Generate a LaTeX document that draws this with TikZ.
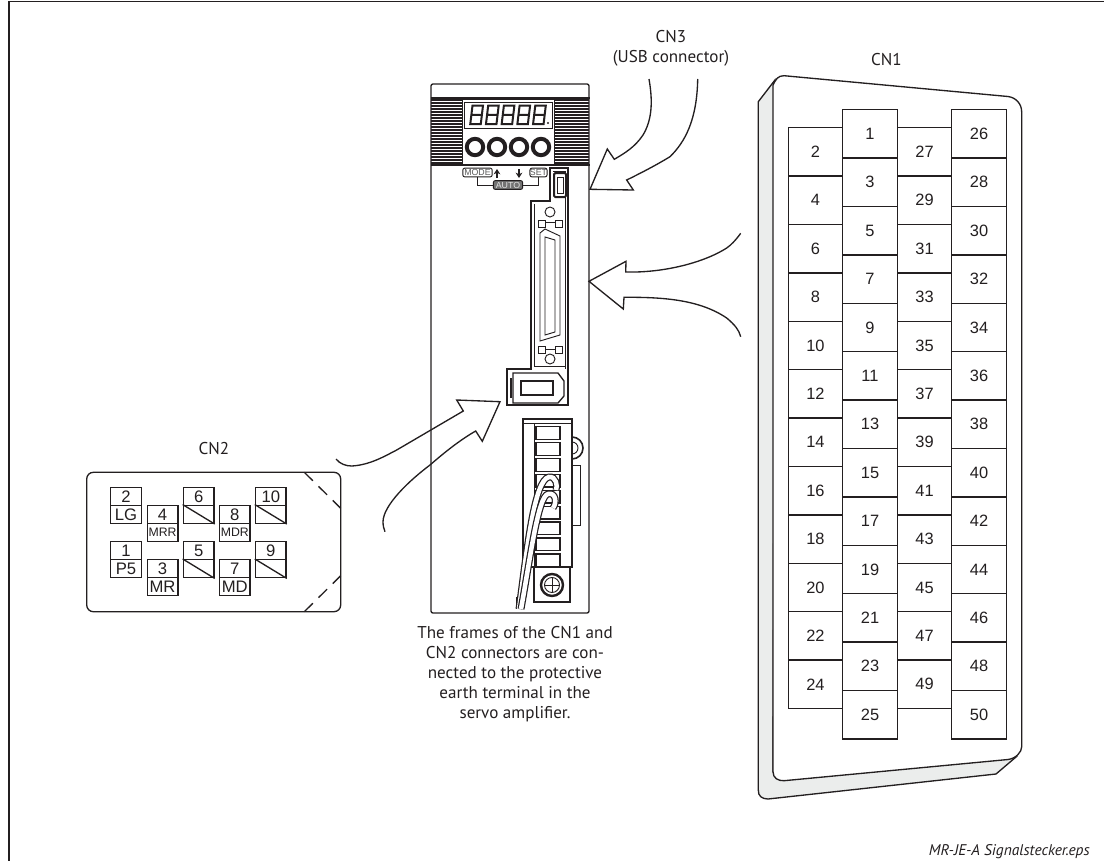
\documentclass[tikz,border=0pt]{standalone}
\usepackage{fontspec}
\setmainfont{PT Sans}
\newfontfamily\pinfont{Liberation Sans}
\usetikzlibrary{arrows.meta}
\definecolor{shellgrey}{RGB}{235,237,236}
\definecolor{inkdark}{RGB}{35,31,32}
\tikzset{
  outline/.style={draw=inkdark,line width=1pt},
  thinline/.style={draw=inkdark,line width=0.7pt},
  bigarrow/.style={draw=inkdark,line width=1pt,line join=miter},
  cellbox/.style={outline,fill=white,minimum width=40.8pt,minimum height=36.3pt,inner sep=0pt,text=inkdark,font=\pinfont\fontsize{12.3}{14}\selectfont},
  pinbox/.style={outline,minimum width=23pt,minimum height=13.6pt,inner sep=0pt,text=inkdark,font=\pinfont\fontsize{12.5}{13}\selectfont},
  keybox/.style={thinline,rounded corners=1.5pt,fill=white,inner sep=0pt,minimum height=6.6pt,text=black!65,font=\pinfont\fontsize{6.6}{7}\selectfont},
  wirepath/.style={double=white,double distance=3.4pt,draw=inkdark,line width=0.9pt},
  caption/.style={inner sep=0pt,text=inkdark,font=\fontsize{12.8}{15}\selectfont,align=center},
}
\newcommand{\smallsig}[1]{{\fontsize{9.2}{10}\selectfont #1}}
\begin{document}
\begin{tikzpicture}[x=0.75pt,y=0.75pt,yscale=-1,xscale=1]
    \useasboundingbox (0,0) rectangle (1104,861);
    % Page frame
    \draw [outline] (1104,1.5) -- (9,1.5) -- (9,861);

    % Servo amplifier
    \draw [outline,rounded corners=1.5pt] (431,84) rectangle (589,613);
    \foreach \y in {100,103,...,163} {
      \draw [inkdark,line width=1.1pt] (431,\y) -- (462,\y);
      \draw [inkdark,line width=1.1pt] (554,\y) -- (589,\y);
    }
    \draw [outline] (431,98) -- (590,98);
    \draw [outline] (431,165) -- (590,165);
    \draw [thinline] (462,99) rectangle (554,164);
    \draw [thinline] (464,102) rectangle (552,128);
    % Display digits
    \foreach \x in {472.5,488.2,503.9,519.6,535.3} {
      \begin{scope}[shift={(\x,105.5)},xslant=-0.12]
        \draw [inkdark,line width=1.5pt] (0,0) rectangle (10.5,18.5) (0,9.25) -- (10.5,9.25);
        \draw [white,line width=0.35pt] (5.25,2.5) -- (5.25,7) (5.25,11.5) -- (5.25,16);
      \end{scope}
    }
    \fill [inkdark] (548,123) circle (1.2);
    % Push buttons
    \foreach \x in {475,497,519,541} {
      \draw [inkdark,line width=3pt] (\x,147) circle (8.2);
    }
    \node [keybox,minimum width=22pt] (modekey) at (477.5,172.5) {MODE};
    \node [keybox,minimum width=12.5pt] (setkey) at (538.5,172.5) {SET};
    \node [keybox,fill=black!55,text=black!12,minimum width=22pt] (autokey) at (508,185) {AUTO};
    \draw [thinline] (modekey.south) |- (autokey.west);
    \draw [thinline] (setkey.south) |- (autokey.east);
    \draw [inkdark,line width=0.9pt,-{Stealth[length=4pt,width=5pt]}] (497,178) -- (497,169);
    \draw [inkdark,line width=0.9pt,-{Stealth[length=4pt,width=5pt]}] (519,169) -- (519,178);

    % Connector bay with USB socket
    \draw [outline] (568,405) -- (568,168) -- (550,168) -- (550,201) -- (531,201) -- (531,369) -- (507,369) -- (507,405) -- cycle;
    \draw [thinline] (565,369) -- (565,171) -- (553,171);
    \draw [inkdark,line width=1.5pt,rounded corners=1pt] (554,173) rectangle (566,197);
    \draw [thinline] (557,177) rectangle (563,193);
    \draw [thinline] (534,204) -- (534,366) -- (565,366);
    % Screws beside the D connector
    \draw [thinline] (550,212) circle (5);
    \draw [thinline] (538,220) rectangle (545,227) (555,220) rectangle (562,227) (545,222) -- (555,222);
    \draw [thinline] (550,359) circle (5);
    \draw [thinline] (538,346) rectangle (545,353) (555,346) rectangle (562,353) (545,349) -- (555,349);
    \draw [thinline] (540,233) -- (545,229) -- (560,236) -- (560,335) -- (540,341) -- cycle;
    \draw [thinline] (545,237) -- (555,240) -- (555,332) -- (545,335) -- cycle;
    % CN2 socket
    \draw [outline] (513,373) -- (558,373) -- (564,381) -- (564,396) -- (558,403) -- (513,403) -- cycle;
    \draw [inkdark,line width=1.6pt] (511,378) -- (511,398);
    \draw [outline] (521,381) rectangle (553,395);

    % Terminal block
    \draw [inkdark,line width=1.2pt] (572,437) arc (-90:90:11);
    \draw [thinline] (572,442) arc (-90:90:6);
    \draw [thinline] (572,465) rectangle (580,525.7);
    \draw [outline,fill=white] (523,419) rectangle (572,567);
    \draw [thinline] (534,423) -- (534,567);
    \draw [thinline] (523,423) -- (572,423);
    \foreach \y in {426.7,442.6,...,560} {
      \draw [outline,fill=white] (536,\y) rectangle (560,\y+12.7);
    }
    \draw [outline] (534,567) rectangle (570,602);
    \draw [inkdark,line width=1.8pt] (552,585) circle (11);
    \draw [thinline] (552,585) circle (7.5);
    \draw [thinline] (545,585) -- (559,585) (552,578) -- (552,592);
    \draw [thinline] (516,597) rectangle (520,608);
    % Bridging wires
    \draw [wirepath] (519,609) .. controls (527,550) and (534,480) .. (549,477) .. controls (556,476) and (558,486) .. (556,490);
    \draw [wirepath] (521,609) .. controls (530,560) and (538,496) .. (548,494) .. controls (556,492) and (557,503) .. (553,508);

    % CN3 arrow
    \draw [bigarrow] (649,79) .. controls (653,102) and (652,120) .. (643,135) .. controls (635,147) and (625,153) .. (614.3,159.3) -- (607.3,149) -- (590,189.3) -- (633.3,190) -- (626.7,180) .. controls (645,171) and (658,164) .. (670,156.7) .. controls (685,142) and (697,120) .. (697.7,79);
    % CN1 arrow
    \draw [bigarrow] (740.7,233.3) .. controls (735,241) and (731,245) .. (726.7,248) .. controls (705,262) and (665,273) .. (625.7,272) -- (626,261.3) -- (589,281.3) -- (623.3,309) -- (624,297.3) .. controls (665,297) and (700,300) .. (726.7,318) .. controls (735,325) and (739,330) .. (740.7,336.7);
    % CN2 arrow
    \draw [bigarrow] (336,459) .. controls (340,464) and (346,466) .. (351.7,466) .. controls (370,465) and (385,456) .. (396.7,450) -- (463.3,411) -- (456.7,400) -- (500,401.7) -- (482.3,441.3) -- (475.7,431) .. controls (460,440) and (445,452) .. (430,465) .. controls (410,480) and (383,505) .. (383,522) .. controls (383,526) and (384,529) .. (385,531.7);

    % CN1 connector shell
    \draw [outline,fill=shellgrey] (758.3,101.7) -- (775,80) -- (773,771.7) -- (1016,757) -- (996,774) -- (768,799) .. controls (762,799) and (758,796) .. (758.3,790) -- cycle;
    \draw [outline,fill=white] (773,85) .. controls (776,79) and (778,75.7) .. (784,75.7) -- (1008,96.5) .. controls (1016,97.5) and (1021.7,104) .. (1021.7,112) -- (1021.7,746.7) .. controls (1021.7,752) and (1016,758.5) .. (1008,759.5) -- (784,780.7) .. controls (778,781) and (773,778) .. (773,771.7) -- cycle;
    \foreach \row in {0,...,12} {
      \pgfmathtruncatemacro{\numa}{2*\row+1}
      \pgfmathtruncatemacro{\numb}{2*\row+26}
      \node [cellbox] (cell\numa) at (870,133.9+48.4*\row) {\numa};
      \node [cellbox] (cell\numb) at (979,133.9+48.4*\row) {\numb};
    }
    \foreach \row in {0,...,11} {
      \pgfmathtruncatemacro{\numa}{2*\row+2}
      \pgfmathtruncatemacro{\numb}{2*\row+27}
      \node [cellbox] (cell\numa) at (815.4,151.9+48.4*\row) {\numa};
      \node [cellbox] (cell\numb) at (924.5,151.9+48.4*\row) {\numb};
    }

    % CN2 connector face
    \draw [outline,rounded corners=5pt] (86.7,472.3) rectangle (340.7,611.7);
    \draw [outline,dashed,dash pattern=on 9pt off 6pt] (304.3,472.3) -- (340.7,508.3);
    \draw [outline,dashed,dash pattern=on 9pt off 6pt] (304.3,611.7) -- (340.7,575.7);
    \foreach \x/\y/\num/\sig in {126/496.3/2/LG,162.5/514.3/4/\smallsig{MRR},234.8/514.3/8/\smallsig{MDR},126/550.7/1/P5,162.5/568.7/3/MR,234.8/568.7/7/MD} {
      \node [pinbox] (pin\num) at (\x,\y) {\num};
      \node [pinbox] (sig\num) at (\x,\y+18) {\sig};
    }
    \foreach \x/\y/\num in {198.7/496.3/6,270.8/496.3/10,198.7/550.7/5,270.8/550.7/9} {
      \node [pinbox] (pin\num) at (\x,\y) {\num};
      \node [pinbox] (sig\num) at (\x,\y+18) {};
      \draw [outline] (sig\num.north west) -- (sig\num.south east);
    }

    % Text Node
    \node [caption] (cnthree) at (671,48) {CN3\\(USB connector)};
    \node [caption] (cnone) at (886.5,60) {CN1};
    \node [caption] (cntwo) at (213.8,449) {CN2};
    \node [caption] (framenote) at (515,674) {The frames of the CN1 and\\CN2 connectors are con-\\nected to the protective\\earth terminal in the\\servo amplifier.};
    \node [inner sep=0pt,anchor=south east,text=inkdark,font=\itshape\fontsize{11.6}{13}\selectfont] (filename) at (1090,859) {MR-JE-A Signalstecker.eps};
\end{tikzpicture}
\end{document}
